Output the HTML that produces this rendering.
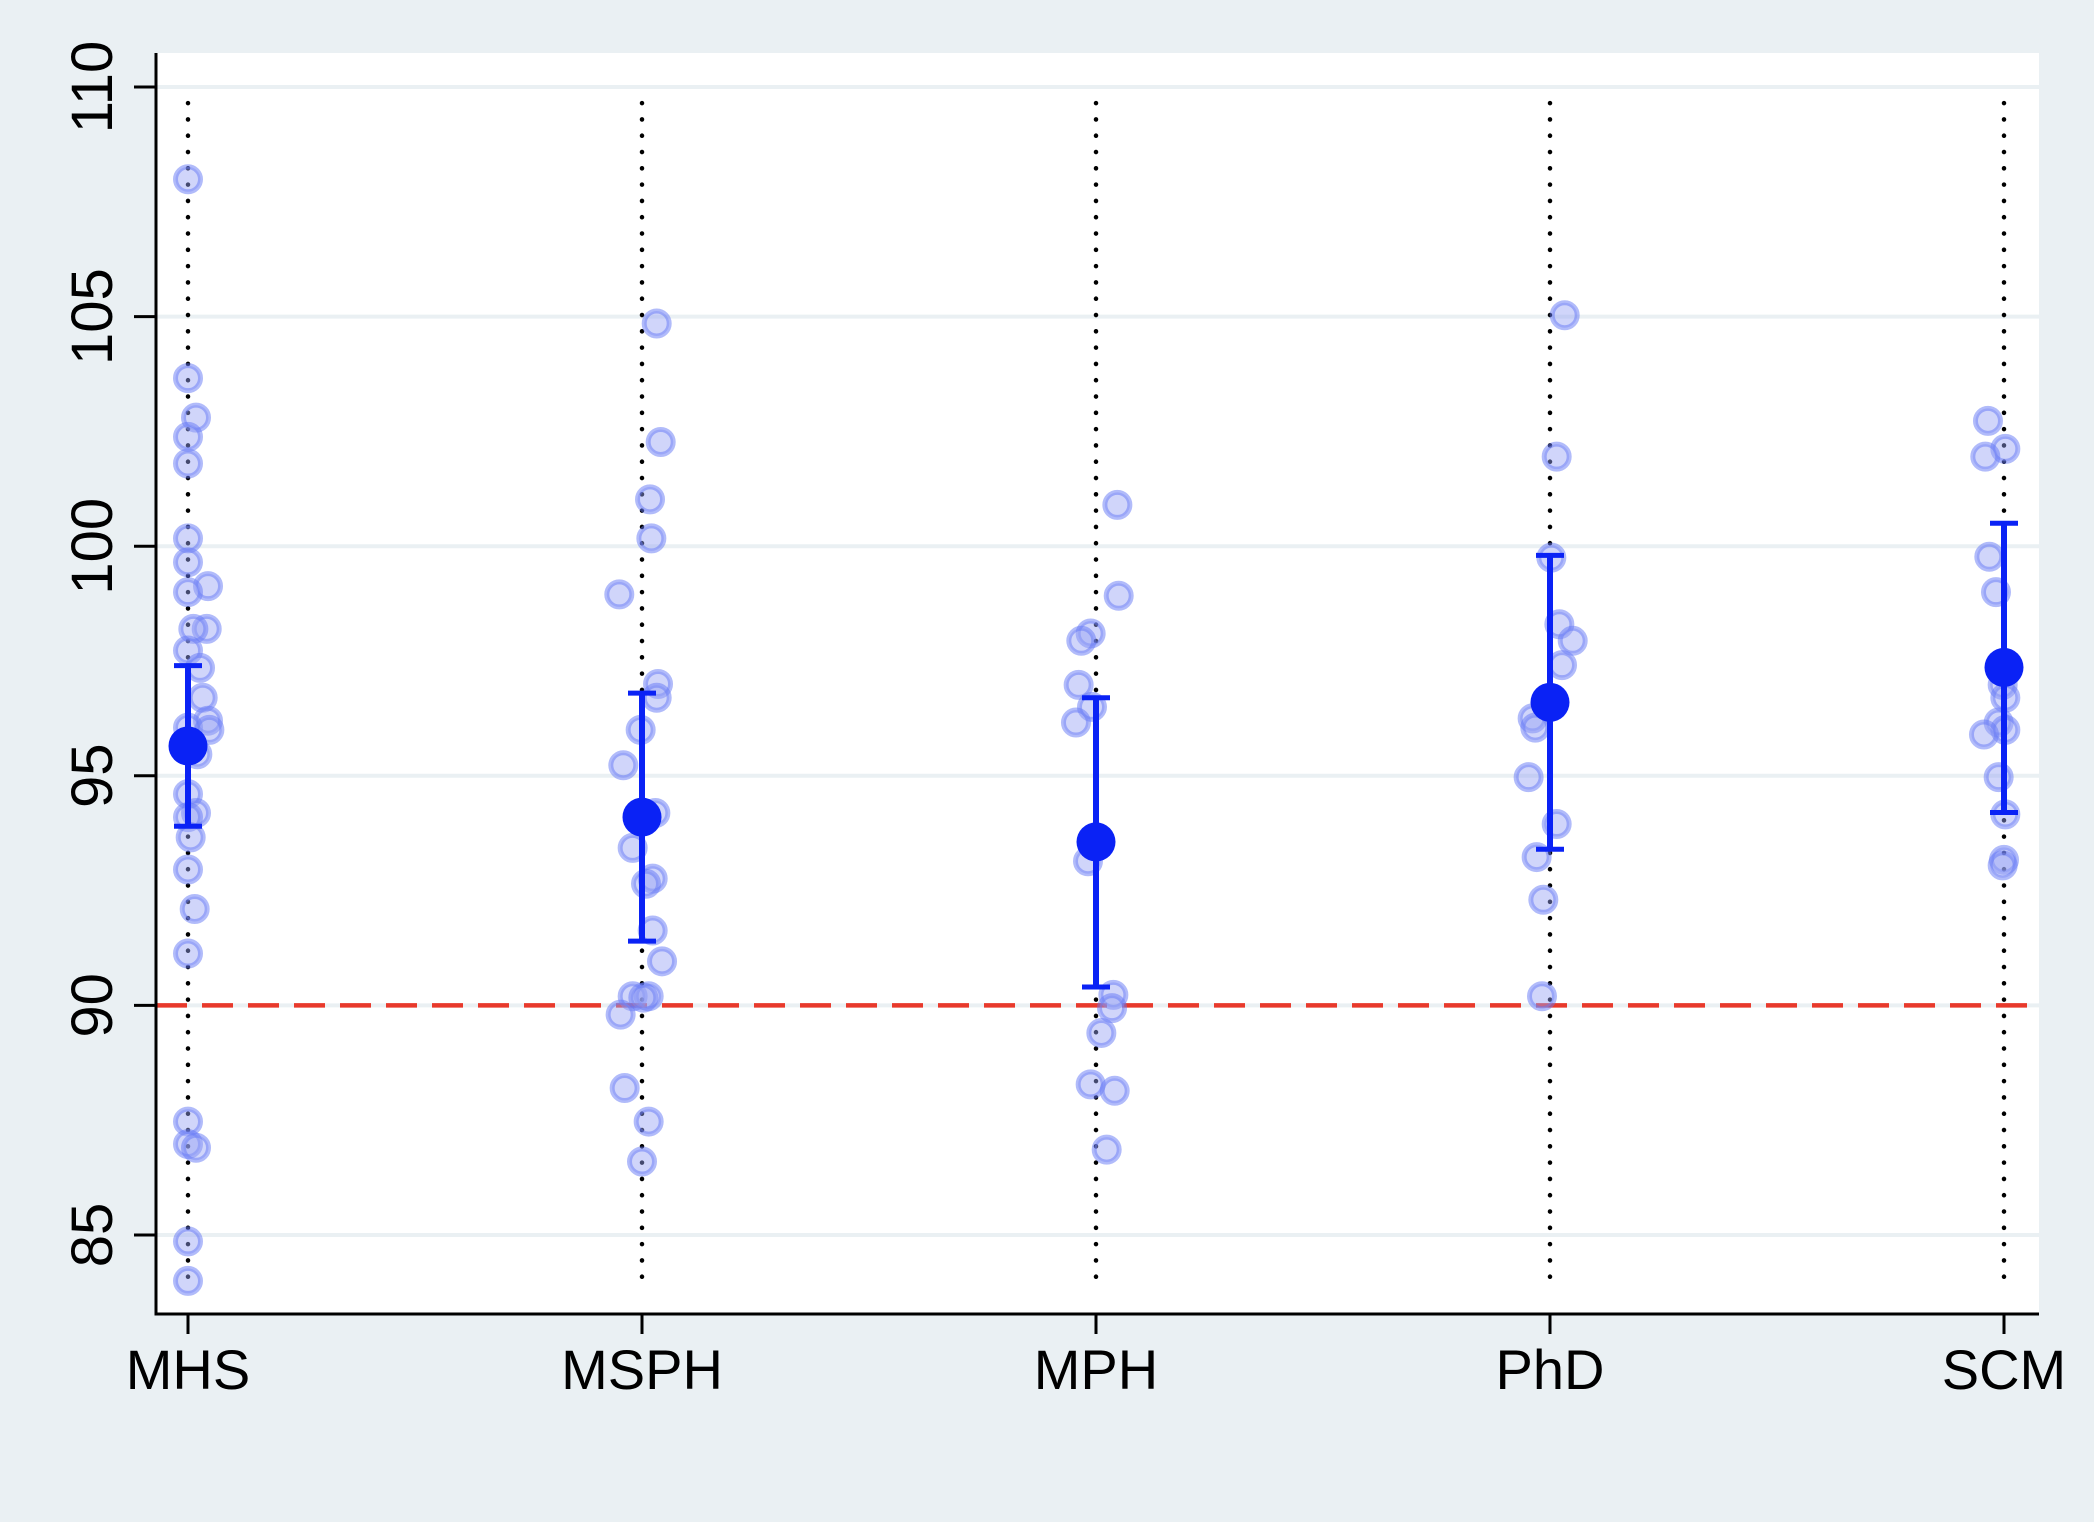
<!DOCTYPE html>
<html><head><meta charset="utf-8"><style>
html,body{margin:0;padding:0;background:#eaf0f3;}
svg{display:block;font-family:"Liberation Sans",Arial,sans-serif;}
</style></head><body>
<svg id="chart" width="2094" height="1522" viewBox="0 0 2094 1522" xmlns="http://www.w3.org/2000/svg">
<rect x="0" y="0" width="2094" height="1522" fill="#eaf0f3"/>
<rect x="156" y="53" width="1883" height="1261" fill="#ffffff"/>
<g id="grid"></g><g id="dots"></g><g id="pts"></g><g id="means"></g><g id="axes"></g>
</svg>
<script>
const categories = ["MHS","MSPH","MPH","PhD","SCM"];
const yTicks = [85,90,95,100,105,110];
const refValue = 90;
const means = [95.65, 94.1, 93.56, 96.6, 97.36];
const ciLow = [93.9, 91.4, 90.4, 93.4, 94.2];
const ciHigh = [97.4, 96.8, 96.7, 99.8, 100.5];
const valsMHS = [107.99,103.66,102.8,102.38,101.8,100.17,99.65,99.13,99.0,98.2,98.2,97.73,97.35,96.7,96.2,96.05,96.0,95.47,94.6,94.19,94.1,93.66,92.96,92.1,91.13,87.47,86.98,86.9,84.86,84.0];
const jitMHS = [0,0,6,0,0,0,0,15,0,14,4,0,9,11,15,0,16,7,0,6,0,2,0,5,0,0,0,6,0,0];
const valsMSPH = [104.85,102.27,101.02,100.17,98.95,97.0,96.7,96.0,95.23,94.19,93.43,92.76,92.65,91.63,90.96,90.2,90.2,90.17,89.8,88.2,87.47,86.6];
const jitMSPH = [11,14,6,7,-17,12,11,-1,-14,10,-7,8,3,8,15,-7,5,1,-16,-13,5,0];
const valsMPH = [100.9,98.92,98.1,97.94,96.98,96.5,96.16,93.14,90.23,89.94,89.4,88.28,88.14,86.86];
const jitMPH = [16,17,-4,-11,-13,-3,-15,-6,13,12,4,-4,14,8];
const valsPhD = [105.03,101.95,99.75,98.3,97.94,97.41,96.25,96.05,94.97,93.95,93.23,92.3,90.2];
const jitPhD = [11,5,1,7,17,9,-13,-11,-16,5,-10,-5,-6];
const valsSCM = [102.73,102.12,101.95,99.77,99.0,96.98,96.7,96.16,96.0,95.9,94.97,94.16,93.17,93.05];
const jitSCM = [-12,1,-14,-11,-6,-1,1,-4,1,-15,-4,1,0,-1];
const allVals = [valsMHS,valsMSPH,valsMPH,valsPhD,valsSCM];
const allJit = [jitMHS,jitMSPH,jitMPH,jitPhD,jitSCM];

const NS="http://www.w3.org/2000/svg";
const X0=188, XS=454, JS=1.3355;
function xScale(i){return X0+i*XS;}
function yScale(v){return 87+(110-v)*45.92;}
function mk(tag,attrs,parent){const e=document.createElementNS(NS,tag);for(const k in attrs)e.setAttribute(k,attrs[k]);document.getElementById(parent).appendChild(e);return e;}

yTicks.forEach(t=>{
  const g=mk('line',{x1:156,x2:2039,y1:yScale(t),y2:yScale(t),stroke:'#eaf0f3','stroke-width':4},'grid');
  
  
  const tk=mk('line',{x1:134,x2:156,y1:yScale(t),y2:yScale(t),stroke:'#000','stroke-width':3},'axes');
  
  
  const y=yScale(t);
  const tx=mk('text',{x:0,y:0,transform:`translate(112,${y}) rotate(-90)`,'text-anchor':'middle','font-size':58,fill:'#000'},'axes');
  tx.textContent=t;
  
  
});
const ref=mk('line',{x1:156,x2:2039,y1:yScale(refValue),y2:yScale(refValue),stroke:'#e8392b','stroke-width':4.5,'stroke-dasharray':'31 15'},'grid');



categories.forEach((c,i)=>{
  const x=xScale(i);
  const d=mk('line',{x1:x,x2:x,y1:yScale(109.65),y2:yScale(84),stroke:'#000','stroke-width':4.5,'stroke-dasharray':'0.1 16.2','stroke-linecap':'round'},'dots');
  
  
  allVals[i].forEach((v,j)=>{
    const p=mk('circle',{cx:x+allJit[i][j]*JS,cy:yScale(v),r:12.5,fill:'rgba(150,162,245,0.45)',stroke:'rgba(100,120,245,0.5)','stroke-width':5},'pts');
    
    
  });
  const ci=mk('line',{x1:x,x2:x,y1:yScale(ciHigh[i]),y2:yScale(ciLow[i]),stroke:'#0a22f5','stroke-width':6},'means');
  
  
  [ciHigh[i],ciLow[i]].forEach(v=>{
    const cp=mk('line',{x1:x-14,x2:x+14,y1:yScale(v),y2:yScale(v),stroke:'#0a22f5','stroke-width':5},'means');
    
    
  });
  const m=mk('circle',{cx:x,cy:yScale(means[i]),r:19.5,fill:'#0a22f5'},'means');
  
  
  const xt=mk('line',{x1:x,x2:x,y1:1314,y2:1334,stroke:'#000','stroke-width':3},'axes');
  
  
  const lb=mk('text',{x:x,y:1389,'text-anchor':'middle','font-size':56,fill:'#000'},'axes');
  lb.textContent=c;
  
  
});
const ya=mk('line',{x1:156,x2:156,y1:53,y2:1315.5,stroke:'#000','stroke-width':3},'axes');


const xa=mk('line',{x1:154.5,x2:2039,y1:1314,y2:1314,stroke:'#000','stroke-width':3},'axes');


</script>
</body></html>
